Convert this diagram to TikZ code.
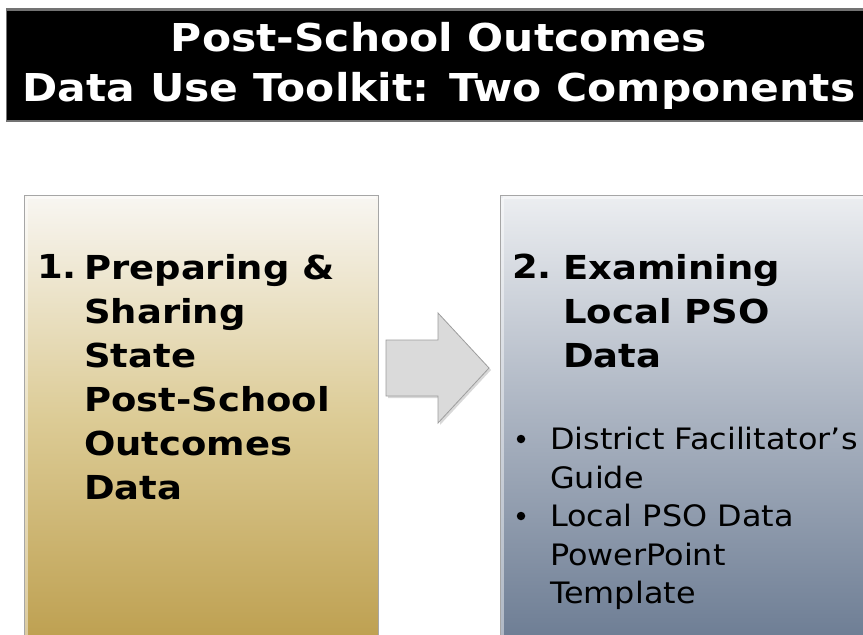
\documentclass[tikz,border=0pt]{standalone}
\usepackage{fontspec}
\setmainfont{DejaVu Sans}
\newfontfamily\titlefont{DejaVu Sans}[FakeStretch=1.105]
\newfontfamily\headfont{DejaVu Sans}[FakeStretch=1.12]
\newfontfamily\listfont{DejaVu Sans}[FakeStretch=1.08]
\begin{document}
\begin{tikzpicture}[x=1pt,y=-1pt,
  boxedge/.style={draw=black!35, line width=1pt},
  bevel/.style={draw=white, opacity=0.45, line width=3pt},
  headtext/.style={font=\headfont\bfseries\fontsize{33}{44}\selectfont, anchor=north west, inner sep=0pt, align=left},
  bullettext/.style={font=\listfont\fontsize{29.5}{38.5}\selectfont, anchor=north west, inner sep=0pt, align=left},
  bulletdot/.style={circle, fill=black, inner sep=0pt, minimum size=8.5pt, font=\fontsize{1}{1}\selectfont},
  titletext/.style={font=\titlefont\bfseries\fontsize{38.4}{50}\selectfont, text=white, align=center, inner sep=0pt}]
\definecolor{goldtop}{HTML}{F8F6F2}
\definecolor{goldmid}{HTML}{DCCB95}
\definecolor{goldbot}{HTML}{BD9F4F}
\definecolor{slatetop}{HTML}{ECEEF1}
\definecolor{slatemid}{HTML}{A9B2C0}
\definecolor{slatebot}{HTML}{6C7C93}
\definecolor{arrowfill}{HTML}{DADADA}
\useasboundingbox (0,0) rectangle (863,635);
\fill[white] (0,0) rectangle (863,635);
% title bar
\fill[black!55] (6,8) rectangle (866,122);
\fill[black] (7,11) rectangle (866,120);
\node[titletext] (title) at (439,66) {Post-School Outcomes\\Data Use Toolkit: Two Components};
% left box
\shade[top color=goldtop, bottom color=goldbot, middle color=goldmid] (24,195) rectangle (378,645);
\draw[bevel] (26.5,197.5) -- (26.5,645);
\draw[bevel] (26.5,197.5) -- (375.5,197.5);
\draw[boxedge] (24,645) -- (24,195) -- (378,195) -- (378,645);
\coordinate (box1) at (201,420);
% right box
\shade[top color=slatetop, bottom color=slatebot, middle color=slatemid] (500,195) rectangle (870,645);
\draw[bevel] (502.5,197.5) -- (502.5,645);
\draw[bevel] (502.5,197.5) -- (870,197.5);
\draw[boxedge] (500,645) -- (500,195) -- (870,195);
\coordinate (box2) at (680,420);
% arrow
\fill[black!25, opacity=0.6] (388,342) -- (440,342) -- (440,315) -- (491,370) -- (440,425) -- (440,398) -- (388,398) -- cycle;
\filldraw[fill=arrowfill, draw=black!38, line width=0.8pt] (386,340) -- (438,340) -- (438,313) -- (489,368) -- (438,423) -- (438,396) -- (386,396) -- cycle;
% left text
\node[headtext] (n1) at (37,254) {1.};
\node[headtext] (t1) at (84,254) {Preparing \&\\Sharing\\State\\Post-School\\Outcomes\\Data};
% right text
\node[headtext] (n2) at (512,254) {2.};
\node[headtext] (t2) at (563,254) {Examining\\Local PSO\\Data};
\node[bulletdot] (b1) at (521,439) {};
\node[bullettext] (b1t) at (550,427) {District Facilitator’s\\Guide};
\node[bulletdot] (b2) at (521,516) {};
\node[bullettext] (b2t) at (550,504) {Local PSO Data\\PowerPoint\\Template};
\end{tikzpicture}
\end{document}
